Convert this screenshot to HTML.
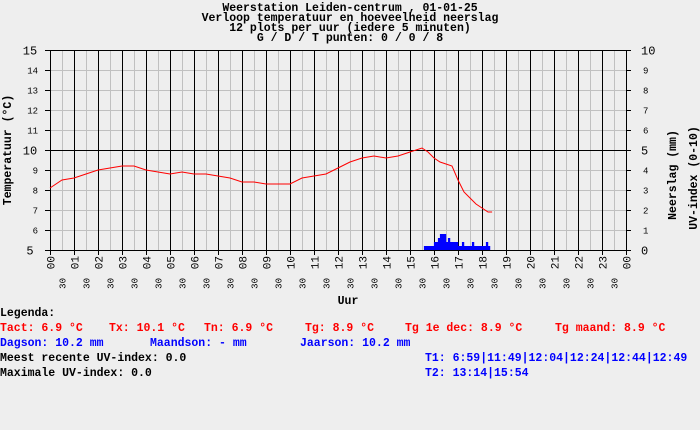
<!DOCTYPE html>
<html><head><meta charset="utf-8"><style>
html,body{margin:0;padding:0;background:#eeeeee;}
svg{display:block;font-family:"Liberation Mono",monospace;}
</style></head><body>
<svg id="chart" width="700" height="430" viewBox="0 0 700 430" xmlns="http://www.w3.org/2000/svg">
<rect width="700" height="430" fill="#eeeeee"/>
<g font-weight="bold" font-size="11.5" text-anchor="middle" fill="#000">
<text x="350" y="11">Weerstation Leiden-centrum , 01-01-25</text>
<text x="350" y="21">Verloop temperatuur en hoeveelheid neerslag</text>
<text x="350" y="31">12 plots per uur (iedere 5 minuten)</text>
<text x="350" y="41">G / D / T punten: 0 / 0 / 8</text>
</g>
<g id="grid"></g>
<g id="rain"></g>
<path id="temp" fill="none" stroke="#ff0000" stroke-width="1"/>
<g id="axes"></g>
<text font-weight="bold" font-size="11.5" text-anchor="middle" transform="translate(11,150) rotate(-90)">Temperatuur (°C)</text>
<text font-weight="bold" font-size="11.5" text-anchor="middle" transform="translate(676,175) rotate(-90)">Neerslag (mm)</text>
<text font-weight="bold" font-size="11.5" text-anchor="middle" transform="translate(697,178) rotate(-90)">UV-index (0-10)</text>
<text font-weight="bold" font-size="11.5" text-anchor="middle" x="348" y="304">Uur</text>
<g font-weight="bold" font-size="11.5">
<text x="0" y="316" fill="#000">Legenda:</text>
<text x="0" y="331" fill="#ff0000">Tact: 6.9 °C</text>
<text x="109" y="331" fill="#ff0000">Tx: 10.1 °C</text>
<text x="204" y="331" fill="#ff0000">Tn: 6.9 °C</text>
<text x="305" y="331" fill="#ff0000">Tg: 8.9 °C</text>
<text x="405" y="331" fill="#ff0000">Tg 1e dec: 8.9 °C</text>
<text x="555" y="331" fill="#ff0000">Tg maand: 8.9 °C</text>
<text x="0" y="346" fill="#0000ff">Dagson: 10.2 mm</text>
<text x="150" y="346" fill="#0000ff">Maandson: - mm</text>
<text x="300" y="346" fill="#0000ff">Jaarson: 10.2 mm</text>
<text x="0" y="361" fill="#000">Meest recente UV-index: 0.0</text>
<text x="425" y="361" fill="#0000ff">T1: 6:59|11:49|12:04|12:24|12:44|12:49</text>
<text x="0" y="376" fill="#000">Maximale UV-index: 0.0</text>
<text x="425" y="376" fill="#0000ff">T2: 13:14|15:54</text>
</g>
</svg>
<script>
const tempTimes=[0,0.5,1,1.5,2,2.5,3,3.5,4,4.5,5,5.5,6,6.5,7,7.5,8,8.5,9,9.5,10,10.5,11,11.5,12,12.5,13,13.5,14,14.5,15,15.5,15.75,16,16.25,16.5,16.75,17,17.25,17.5,17.75,18,18.25,18.42];
const tempValues=[8.1,8.5,8.6,8.8,9.0,9.1,9.2,9.2,9.0,8.9,8.8,8.9,8.8,8.8,8.7,8.6,8.4,8.4,8.3,8.3,8.3,8.6,8.7,8.8,9.1,9.4,9.6,9.7,9.6,9.7,9.9,10.1,9.9,9.6,9.4,9.3,9.2,8.5,7.9,7.6,7.3,7.1,6.9,6.9];
const rainStart=15.58;
const rainValues=[0.2,0.2,0.2,0.2,0.2,0.4,0.4,0.6,0.8,0.8,0.8,0.4,0.6,0.4,0.4,0.4,0.4,0.2,0.2,0.4,0.2,0.2,0.2,0.2,0.4,0.2,0.2,0.2,0.2,0.2,0.2,0.4,0.2];
const leftTicks=[5,6,7,8,9,10,11,12,13,14,15];
const rightTicks=[0,1,2,3,4,5,6,7,8,9,10];
const hourLabels=["00","01","02","03","04","05","06","07","08","09","10","11","12","13","14","15","16","17","18","19","20","21","22","23","00"];

const NS="http://www.w3.org/2000/svg";
const X0=50,X1=626,Y0=250,Y1=50;
const xs=h=>X0+h*(X1-X0)/24;
const yT=t=>Y0-(t-5)*(Y0-Y1)/10;
const yR=r=>Y0-r*(Y0-Y1)/10;
function mk(tag,attrs,parent){const e=document.createElementNS(NS,tag);for(const k in attrs)e.setAttribute(k,attrs[k]);parent.appendChild(e);return e;}
const grid=document.getElementById('grid'),axes=document.getElementById('axes'),rain=document.getElementById('rain');
// grey grid
for(let i=0;i<48;i++){if(i%2){const x=xs(i/2)+0.5;const l=mk('line',{x1:x,x2:x,y1:Y1,y2:Y0,stroke:'#c0c0c0'},grid);}}
leftTicks.forEach(t=>{const y=yT(t)+0.5;const l=mk('line',{x1:X0,x2:X1,y1:y,y2:y,stroke:(t%5===0)?'#000':'#c0c0c0'},grid);});
for(let i=0;i<=24;i++){const x=xs(i)+0.5;const l=mk('line',{x1:x,x2:x,y1:Y1,y2:Y0+5,stroke:'#000'},grid);}
// rain
rainValues.forEach((v,i)=>{if(v<=0)return;const x=xs(rainStart+i/12);const w=(X1-X0)/24/12;const b=mk('rect',{x:x,y:yR(v),width:w+0.3,height:Y0-yR(v),fill:'#0000ff'},rain);});
// temp
document.getElementById('temp').setAttribute('d',tempTimes.map((t,i)=>(i?'L':'M')+xs(t).toFixed(1)+' '+yT(tempValues[i]).toFixed(1)).join(' '));
// left ticks
leftTicks.forEach(t=>{const y=yT(t)+0.5;mk('line',{x1:X0-5,x2:X0,y1:y,y2:y,stroke:'#000'},axes);const big=t%5===0;const tx=mk('text',{x:big?30:38,y:y+(big?4:3),'font-size':big?12:9,'text-anchor':big?'middle':'end'},axes);tx.textContent=t;});
rightTicks.forEach(r=>{const y=yR(r)+0.5;mk('line',{x1:X1,x2:X1+5,y1:y,y2:y,stroke:'#000'},axes);const big=r%5===0;const tx=mk('text',{x:big?641:643,y:y+(big?4:3),'font-size':big?12:9},axes);tx.textContent=r;});
hourLabels.forEach((h,i)=>{const x=xs(i);const tx=mk('text',{'font-size':11,'text-anchor':'end',transform:`translate(${x+4.5},256) rotate(-90)`},axes);tx.textContent=h;
if(i<24){const t2=mk('text',{'font-size':9,'text-anchor':'end',transform:`translate(${xs(i+0.5)+3.5},278) rotate(-90)`},axes);t2.textContent='30';}});
</script>
</body></html>
